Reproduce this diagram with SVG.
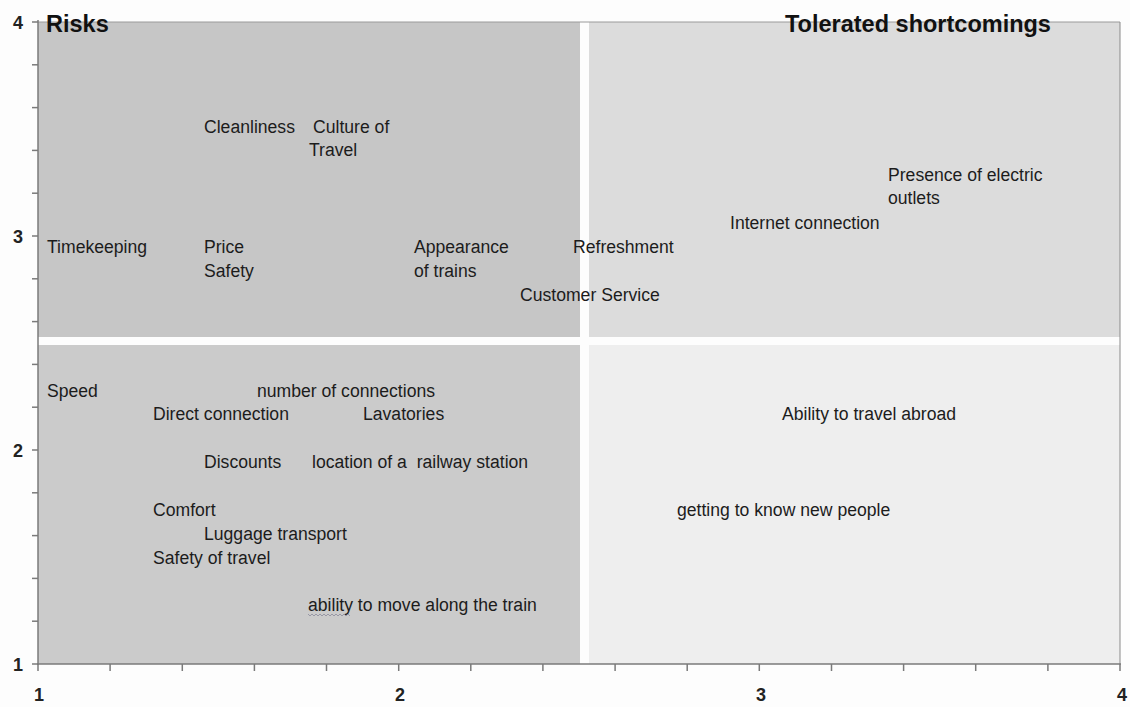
<svg xmlns="http://www.w3.org/2000/svg" width="1130" height="707" viewBox="0 0 1130 707">
<style>
.lbl{font-family:"Liberation Sans",Arial,sans-serif;font-size:17.6px;fill:#1c1c1c}
.ttl{font-family:"Liberation Sans",Arial,sans-serif;font-size:23.5px;font-weight:bold;fill:#111}
.ax{font-family:"Liberation Sans",Arial,sans-serif;font-size:18px;font-weight:bold;fill:#222}
.tick{stroke:#7a7a7a;stroke-width:1.5}
</style>
<rect width="1130" height="707" fill="#fdfdfd"/>
<g id="quadrants">
<rect x="38" y="22" width="542" height="315" fill="#c6c6c6"/>
<rect x="589" y="22" width="531" height="315" fill="#dcdcdc"/>
<rect x="38" y="345" width="542" height="319" fill="#cbcbcb"/>
<rect x="589" y="345" width="531" height="319" fill="#eeeeee"/>
</g>
<g id="axes" fill="none">
<line x1="38" y1="22" x2="1120" y2="22" stroke="#9a9a9a" stroke-width="1"/>
<line x1="1120" y1="22" x2="1120" y2="664" stroke="#8a8a8a" stroke-width="1"/>
<line x1="38" y1="20" x2="38" y2="665" class="tick"/>
<line x1="37" y1="664" x2="1121" y2="664" class="tick"/>
<g class="tick">
<line x1="32" y1="22" x2="38" y2="22"/><line x1="32" y1="64.8" x2="38" y2="64.8"/><line x1="32" y1="107.6" x2="38" y2="107.6"/><line x1="32" y1="150.4" x2="38" y2="150.4"/><line x1="32" y1="193.2" x2="38" y2="193.2"/><line x1="32" y1="236" x2="38" y2="236"/><line x1="32" y1="278.8" x2="38" y2="278.8"/><line x1="32" y1="321.6" x2="38" y2="321.6"/><line x1="32" y1="364.4" x2="38" y2="364.4"/><line x1="32" y1="407.2" x2="38" y2="407.2"/><line x1="32" y1="450" x2="38" y2="450"/><line x1="32" y1="492.8" x2="38" y2="492.8"/><line x1="32" y1="535.6" x2="38" y2="535.6"/><line x1="32" y1="578.4" x2="38" y2="578.4"/><line x1="32" y1="621.2" x2="38" y2="621.2"/><line x1="32" y1="664" x2="38" y2="664"/>
<line x1="38" y1="664" x2="38" y2="671"/><line x1="110.1" y1="664" x2="110.1" y2="671"/><line x1="182.3" y1="664" x2="182.3" y2="671"/><line x1="254.4" y1="664" x2="254.4" y2="671"/><line x1="326.5" y1="664" x2="326.5" y2="671"/><line x1="398.7" y1="664" x2="398.7" y2="671"/><line x1="470.8" y1="664" x2="470.8" y2="671"/><line x1="542.9" y1="664" x2="542.9" y2="671"/><line x1="615.1" y1="664" x2="615.1" y2="671"/><line x1="687.2" y1="664" x2="687.2" y2="671"/><line x1="759.3" y1="664" x2="759.3" y2="671"/><line x1="831.5" y1="664" x2="831.5" y2="671"/><line x1="903.6" y1="664" x2="903.6" y2="671"/><line x1="975.7" y1="664" x2="975.7" y2="671"/><line x1="1047.9" y1="664" x2="1047.9" y2="671"/><line x1="1120" y1="664" x2="1120" y2="671"/>
</g>
</g>
<g id="axis-labels">
<text class="ax" x="23" y="29" text-anchor="end">4</text>
<text class="ax" x="23" y="243" text-anchor="end">3</text>
<text class="ax" x="23" y="457" text-anchor="end">2</text>
<text class="ax" x="23" y="671" text-anchor="end">1</text>
<text class="ax" x="39" y="701" text-anchor="middle">1</text>
<text class="ax" x="400" y="701" text-anchor="middle">2</text>
<text class="ax" x="761" y="701" text-anchor="middle">3</text>
<text class="ax" x="1122" y="701" text-anchor="middle">4</text>
</g>
<g id="titles">
<text class="ttl" x="46" y="32">Risks</text>
<text class="ttl" x="785" y="32">Tolerated shortcomings</text>
</g>
<g id="labels">
<text class="lbl" x="204" y="133">Cleanliness</text>
<text class="lbl" x="313" y="133">Culture of</text>
<text class="lbl" x="309" y="156">Travel</text>
<text class="lbl" x="888" y="181">Presence of electric</text>
<text class="lbl" x="888" y="204">outlets</text>
<text class="lbl" x="730" y="229">Internet connection</text>
<text class="lbl" x="47" y="253">Timekeeping</text>
<text class="lbl" x="204" y="253">Price</text>
<text class="lbl" x="204" y="277">Safety</text>
<text class="lbl" x="414" y="253">Appearance</text>
<text class="lbl" x="414" y="277">of trains</text>
<text class="lbl" x="573" y="253">Refreshment</text>
<text class="lbl" x="520" y="301">Customer Service</text>
<text class="lbl" x="47" y="397">Speed</text>
<text class="lbl" x="257" y="397">number of connections</text>
<text class="lbl" x="153" y="420">Direct connection</text>
<text class="lbl" x="363" y="420">Lavatories</text>
<text class="lbl" x="782" y="420">Ability to travel abroad</text>
<text class="lbl" x="204" y="468">Discounts</text>
<text class="lbl" x="312" y="468" xml:space="preserve">location of a  railway station</text>
<text class="lbl" x="153" y="516">Comfort</text>
<text class="lbl" x="677" y="516">getting to know new people</text>
<text class="lbl" x="204" y="540">Luggage transport</text>
<text class="lbl" x="153" y="564">Safety of travel</text>
<text class="lbl" x="308" y="611">ability to move along the train</text>
<path d="M308,614 l2,2 l2,-2 l2,2 l2,-2 l2,2 l2,-2 l2,2 l2,-2 l2,2 l2,-2 l2,2 l2,-2 l2,2 l2,-2 l2,2 l2,-2 l2,2 l2,-2 l2,2 l2,-2 l2,2" fill="none" stroke="#8a8a9a" stroke-width="0.8"/>
</g>
</svg>
